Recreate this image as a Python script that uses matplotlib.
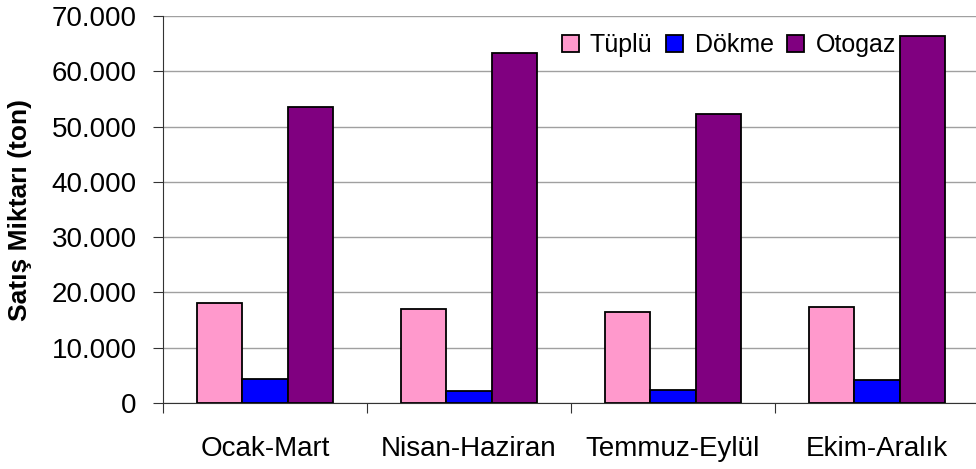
import numpy as np
import matplotlib
matplotlib.use("Agg")
import matplotlib.pyplot as plt
from matplotlib.ticker import FuncFormatter, MultipleLocator

plt.rcParams['font.family'] = ['Liberation Sans', 'DejaVu Sans']

quarters = ['Ocak-Mart', 'Nisan-Haziran', 'Temmuz-Eylül', 'Ekim-Aralık']
tuplu = [18000, 17000, 16500, 17400]
dokme = [4400, 2200, 2300, 4200]
otogaz = [53500, 63300, 52300, 66300]

series = [('Tüplü', tuplu, '#FF99CC'),
          ('Dökme', dokme, '#0000FF'),
          ('Otogaz', otogaz, '#800080')]

fig = plt.figure(figsize=(9.76, 4.69), dpi=100)
ax = fig.add_axes([163/976, 66/469, 1 - 163/976, (403-16)/469])

x = np.arange(len(quarters))
w = 0.223
for i, (name, vals, col) in enumerate(series):
    ax.bar(x + (i - 1) * w, vals, w, color=col, edgecolor='black',
           linewidth=1.3, label=name, zorder=3)

ax.set_xlim(-0.5, 3.485)
ax.set_ylim(0, 70000)
ax.yaxis.set_major_locator(MultipleLocator(10000))
ax.yaxis.set_major_formatter(FuncFormatter(lambda v, p: f'{int(v):,}'.replace(',', '.')))
ax.grid(axis='y', color='#a0a0a0', linewidth=1, zorder=0)

ax.set_xticks(np.arange(-0.5, 3.5, 1.0))
ax.set_xticklabels([])
ax.set_xticks(x, minor=True)
ax.set_xticklabels(quarters, minor=True, fontsize=20)
ax.tick_params(axis='x', which='minor', length=0, pad=24)
ax.tick_params(axis='x', which='major', length=7, direction='out', color='#333333')
ax.tick_params(axis='y', labelsize=20, length=7, direction='out', color='#333333', pad=12)

for s in ['top', 'right']:
    ax.spines[s].set_visible(False)
ax.spines['left'].set_color('#333333')
ax.spines['bottom'].set_color('#333333')

ax.set_ylabel('Satış Miktarı (ton)', fontsize=19, fontweight='bold')
ax.yaxis.set_label_coords(-0.161, 0.5)

ax.legend(loc='center right', bbox_to_anchor=(896/976, (469-45)/469),
          bbox_transform=fig.transFigure, frameon=False, ncol=3, fontsize=18,
          handlelength=0.68, handleheight=0.68, handletextpad=0.45,
          columnspacing=0.55, borderpad=0, borderaxespad=0)

fig.savefig('out.png', dpi=100)
